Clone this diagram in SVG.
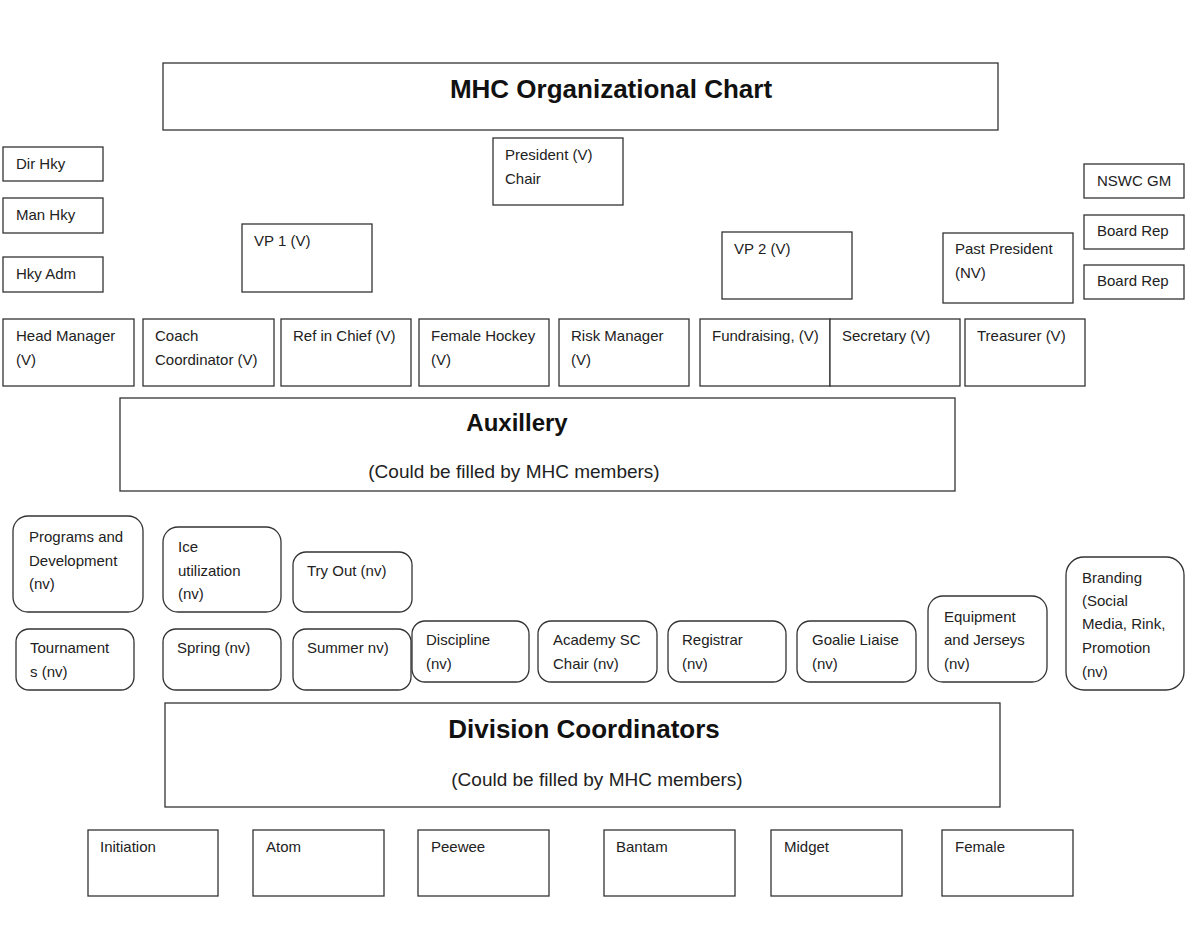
<svg xmlns="http://www.w3.org/2000/svg" width="1200" height="927" viewBox="0 0 1200 927">
<style>
rect{fill:#fff;stroke:#333;stroke-width:1.3}
text{font-family:"Liberation Sans",Arial,sans-serif;font-size:15px;fill:#222}
.t{font-weight:bold;font-size:26px;text-anchor:middle;fill:#111}
.s{font-size:19px;text-anchor:middle}
</style>
<rect x="0" y="0" width="1200" height="927" style="fill:#fff;stroke:none"/>
<g id="title"><rect x="163" y="63" width="835" height="67"/><text class="t" x="611" y="98">MHC Organizational Chart</text></g>
<g id="president"><rect x="493" y="138" width="130" height="67"/><text x="505" y="160">President (V)</text><text x="505" y="184">Chair</text></g>
<g id="dirhky"><rect x="3" y="147" width="100" height="34"/><text x="16" y="169">Dir Hky</text></g>
<g id="manhky"><rect x="3" y="198" width="100" height="35"/><text x="16" y="220">Man Hky</text></g>
<g id="hkyadm"><rect x="3" y="257" width="100" height="35"/><text x="16" y="279">Hky Adm</text></g>
<g id="vp1"><rect x="242" y="224" width="130" height="68"/><text x="254" y="246">VP 1 (V)</text></g>
<g id="vp2"><rect x="722" y="232" width="130" height="67"/><text x="734" y="254">VP 2 (V)</text></g>
<g id="pastpres"><rect x="943" y="233" width="130" height="70"/><text x="955" y="254">Past President</text><text x="955" y="278">(NV)</text></g>
<g id="nswc"><rect x="1084" y="164" width="100" height="34"/><text x="1097" y="186">NSWC GM</text></g>
<g id="boardrep1"><rect x="1084" y="215" width="100" height="34"/><text x="1097" y="236">Board Rep</text></g>
<g id="boardrep2"><rect x="1084" y="265" width="100" height="34"/><text x="1097" y="286">Board Rep</text></g>
<g id="headmgr"><rect x="3" y="319" width="131" height="67"/><text x="16" y="341">Head Manager</text><text x="16" y="365">(V)</text></g>
<g id="coach"><rect x="143" y="319" width="131" height="67"/><text x="155" y="341">Coach</text><text x="155" y="365">Coordinator (V)</text></g>
<g id="ref"><rect x="281" y="319" width="130" height="67"/><text x="293" y="341">Ref in Chief (V)</text></g>
<g id="female"><rect x="419" y="319" width="130" height="67"/><text x="431" y="341">Female Hockey</text><text x="431" y="365">(V)</text></g>
<g id="risk"><rect x="559" y="319" width="130" height="67"/><text x="571" y="341">Risk Manager</text><text x="571" y="365">(V)</text></g>
<g id="fund"><rect x="700" y="319" width="130" height="67"/><text x="712" y="341">Fundraising, (V)</text></g>
<g id="sec"><rect x="830" y="319" width="130" height="67"/><text x="842" y="341">Secretary (V)</text></g>
<g id="treas"><rect x="965" y="319" width="120" height="67"/><text x="977" y="341">Treasurer (V)</text></g>
<g id="aux"><rect x="120" y="398" width="835" height="93"/><text class="t" x="517" y="431" style="font-size:24px">Auxillery</text><text class="s" x="514" y="478">(Could be filled by MHC members)</text></g>
<g id="progdev"><rect x="13" y="516" width="130" height="96" rx="15"/><text x="29" y="542">Programs and</text><text x="29" y="566">Development</text><text x="29" y="589">(nv)</text></g>
<g id="ice"><rect x="163" y="527" width="118" height="85" rx="15"/><text x="178" y="552">Ice</text><text x="178" y="576">utilization</text><text x="178" y="599">(nv)</text></g>
<g id="tryout"><rect x="293" y="552" width="119" height="60" rx="13"/><text x="307" y="576">Try Out (nv)</text></g>
<g id="tourn"><rect x="16" y="629" width="118" height="61" rx="13"/><text x="30" y="653">Tournament</text><text x="30" y="677">s (nv)</text></g>
<g id="spring"><rect x="163" y="629" width="118" height="61" rx="13"/><text x="177" y="653">Spring (nv)</text></g>
<g id="summer"><rect x="293" y="629" width="118" height="61" rx="13"/><text x="307" y="653">Summer nv)</text></g>
<g id="disc"><rect x="412" y="621" width="117" height="61" rx="13"/><text x="426" y="645">Discipline</text><text x="426" y="669">(nv)</text></g>
<g id="academy"><rect x="538" y="621" width="119" height="61" rx="13"/><text x="553" y="645">Academy SC</text><text x="553" y="669">Chair (nv)</text></g>
<g id="registrar"><rect x="668" y="621" width="118" height="61" rx="13"/><text x="682" y="645">Registrar</text><text x="682" y="669">(nv)</text></g>
<g id="goalie"><rect x="797" y="621" width="119" height="61" rx="13"/><text x="812" y="645">Goalie Liaise</text><text x="812" y="669">(nv)</text></g>
<g id="equip"><rect x="928" y="596" width="119" height="86" rx="15"/><text x="944" y="622">Equipment</text><text x="944" y="645">and Jerseys</text><text x="944" y="669">(nv)</text></g>
<g id="branding"><rect x="1066" y="557" width="118" height="133" rx="18"/><text x="1082" y="583">Branding</text><text x="1082" y="606">(Social</text><text x="1082" y="629">Media, Rink,</text><text x="1082" y="653">Promotion</text><text x="1082" y="677">(nv)</text></g>
<g id="divcoord"><rect x="165" y="703" width="835" height="104"/><text class="t" x="584" y="738">Division Coordinators</text><text class="s" x="597" y="786">(Could be filled by MHC members)</text></g>
<g id="initiation"><rect x="88" y="830" width="130" height="66"/><text x="100" y="852">Initiation</text></g>
<g id="atom"><rect x="253" y="830" width="131" height="66"/><text x="266" y="852">Atom</text></g>
<g id="peewee"><rect x="418" y="830" width="131" height="66"/><text x="431" y="852">Peewee</text></g>
<g id="bantam"><rect x="604" y="830" width="131" height="66"/><text x="616" y="852">Bantam</text></g>
<g id="midget"><rect x="771" y="830" width="131" height="66"/><text x="784" y="852">Midget</text></g>
<g id="femalediv"><rect x="942" y="830" width="131" height="66"/><text x="955" y="852">Female</text></g>
<g id="connectors"></g>
</svg>
